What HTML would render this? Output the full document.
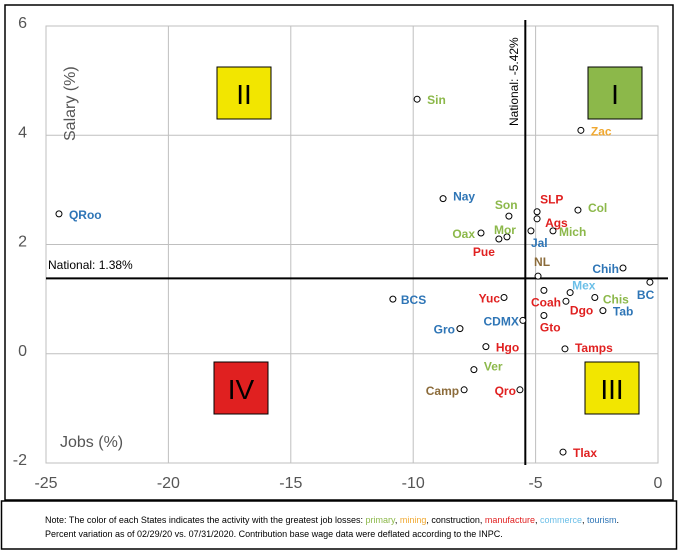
<!DOCTYPE html>
<html><head><meta charset="utf-8">
<style>
body{margin:0;background:#fff;font-family:"Liberation Sans",sans-serif;}
svg text{font-family:"Liberation Sans",sans-serif;}
</style></head>
<body>
<svg width="679" height="554" viewBox="0 0 679 554">
<rect x="5" y="5" width="668" height="495" fill="#fff" stroke="#000" stroke-width="1.5"/>
<rect x="1.5" y="501" width="675" height="48" fill="#fff" stroke="#000" stroke-width="1.5"/>
<g id="grid"></g>
<g id="axes"></g>
<g id="quads"></g>
<g id="marks"></g>
<text x="62" y="128" transform="rotate(-90 75 128)" font-size="16" fill="#555">Salary (%)</text>
<text x="60" y="447" font-size="16" fill="#555">Jobs (%)</text>
<text x="48" y="269" font-size="12" fill="#000">National: 1.38%</text>
<text x="518" y="126" transform="rotate(-90 518 126)" font-size="12" fill="#000">National: -5.42%</text>
<text x="45" y="523" font-size="9" fill="#000">Note: The color of each States indicates the activity with the greatest job losses: <tspan fill="#8cb84a">primary</tspan>, <tspan fill="#f0a830">mining</tspan>, construction, <tspan fill="#e02020">manufacture</tspan>, <tspan fill="#6bbfe8">commerce</tspan>, <tspan fill="#2e75b6">tourism</tspan>.</text>
<text x="45" y="537" font-size="9" fill="#000">Percent variation as of 02/29/20 vs. 07/31/2020. Contribution base wage data were deflated according to the INPC.</text>
</svg>
<script>
const states=["QRoo","Sin","Zac","Nay","Son","SLP","Ags","Col","Oax","Mor","Pue","Jal","Mich","NL","Chih","BC","Mex","Yuc","BCS","Coah","Dgo","Chis","Tab","Gro","CDMX","Gto","Hgo","Tamps","Ver","Camp","Qro","Tlax"];
const jobs=[-24.47,-9.84,-3.15,-8.78,-6.09,-4.94,-4.94,-3.27,-7.23,-6.17,-6.5,-5.19,-4.29,-4.9,-1.43,-0.33,-3.59,-6.29,-10.83,-3.76,-4.66,-2.58,-2.25,-8.09,-5.52,-4.66,-7.03,-3.8,-7.52,-7.92,-5.64,-3.88];
const salary=[2.56,4.66,4.09,2.84,2.52,2.6,2.47,2.63,2.21,2.14,2.1,2.25,2.25,1.42,1.57,1.31,1.12,1.03,1.0,0.96,1.16,1.03,0.79,0.46,0.61,0.7,0.13,0.09,-0.29,-0.66,-0.66,-1.8];
const activity=["t","p","m","t","p","f","f","p","p","p","f","t","p","c","t","t","o","f","t","f","f","p","t","t","t","f","f","f","p","c","f","f"];
const xTicks=[-25,-20,-15,-10,-5,0];
const yTicks=[6,4,2,0,-2];
const nationalJobs=-5.42, nationalSalary=1.38;
const colors={p:"#8cb84a",m:"#f0a830",c:"#8b6b3a",f:"#e02020",o:"#6bbfe8",t:"#2e75b6"};
const lp={QRoo:[10,5,"start"],Sin:[10,5,"start"],Zac:[10,5,"start"],Nay:[10,2,"start"],Son:[-14,-7,"start"],SLP:[3,-8,"start"],Ags:[8,8,"start"],Col:[10,2,"start"],Oax:[-6,5,"end"],Mor:[-13,-3,"start"],Pue:[-4,17,"end"],Jal:[0,16,"start"],Mich:[6,5,"start"],NL:[-4,-10,"start"],Chih:[-4,5,"end"],BC:[-13,17,"start"],Mex:[2,-3,"start"],Yuc:[-4,5,"end"],BCS:[8,5,"start"],Coah:[-5,5,"end"],Dgo:[26,24,"start"],Chis:[8,6,"start"],Tab:[10,5,"start"],Gro:[-5,5,"end"],CDMX:[-4,5,"end"],Gto:[-4,16,"start"],Hgo:[10,5,"start"],Tamps:[10,3,"start"],Ver:[10,1,"start"],Camp:[-5,5,"end"],Qro:[-4,5,"end"],Tlax:[10,5,"start"]};
const X0=46,X1=658,Y0=26,Y1=463;
const sx=v=>X0+(v+25)/25*(X1-X0);
const sy=v=>Y0+(6-v)/8*(Y1-Y0);
const NS="http://www.w3.org/2000/svg";
function mk(tag,attrs,parent,txt){const e=document.createElementNS(NS,tag);for(const k in attrs)e.setAttribute(k,attrs[k]);if(txt!==undefined)e.textContent=txt;parent.appendChild(e);return e;}
const grid=document.getElementById("grid"),axes=document.getElementById("axes"),quads=document.getElementById("quads"),marks=document.getElementById("marks");
mk("rect",{x:X0,y:Y0,width:X1-X0,height:Y1-Y0,fill:"none",stroke:"#bfbfbf"},grid);
xTicks.forEach(t=>{
 const l=mk("line",{x1:sx(t),x2:sx(t),y1:Y0,y2:Y1,stroke:"#bfbfbf"},grid);
 
 
 const tx=mk("text",{x:sx(t),y:488,"font-size":16,fill:"#555","text-anchor":"middle"},axes,String(t));
 
 
});
yTicks.forEach(t=>{
 const l=mk("line",{x1:X0,x2:X1,y1:sy(t),y2:sy(t),stroke:"#bfbfbf"},grid);
 
 
 const tx=mk("text",{x:27,y:sy(t)+2,"font-size":16,fill:"#555","text-anchor":"end"},axes,String(t));
 
 
});
const vl=mk("line",{x1:sx(nationalJobs),x2:sx(nationalJobs),y1:20,y2:Y1+2,stroke:"#000","stroke-width":2},axes);


const hl=mk("line",{x1:X0,x2:X1+10,y1:sy(nationalSalary),y2:sy(nationalSalary),stroke:"#000","stroke-width":2},axes);


const qs=[["II",217,67,"#f2e600"],["I",588,67,"#8cb84a"],["IV",214,362,"#e02020"],["III",585,362,"#f2e600"]];
qs.forEach(q=>{
 const r=mk("rect",{x:q[1],y:q[2],width:54,height:52,fill:q[3],stroke:"#000","stroke-width":1},quads);
 
 
 const t=mk("text",{x:q[1]+27,y:q[2]+37,"font-size":28,fill:"#000","text-anchor":"middle"},quads,q[0]);
 
 
});
states.forEach((s,i)=>{
 const cx=sx(jobs[i]),cy=sy(salary[i]);
 const c=mk("circle",{cx:cx,cy:cy,r:3,fill:"#fff",stroke:"#000","stroke-width":1},marks);
 
 
 const p=lp[s]||[8,5,"start"];
 const t=mk("text",{x:cx+p[0],y:cy+p[1],"font-size":12,"font-weight":"bold",fill:colors[activity[i]],"text-anchor":p[2]},marks,s);
 
 
});
</script>
</body></html>
